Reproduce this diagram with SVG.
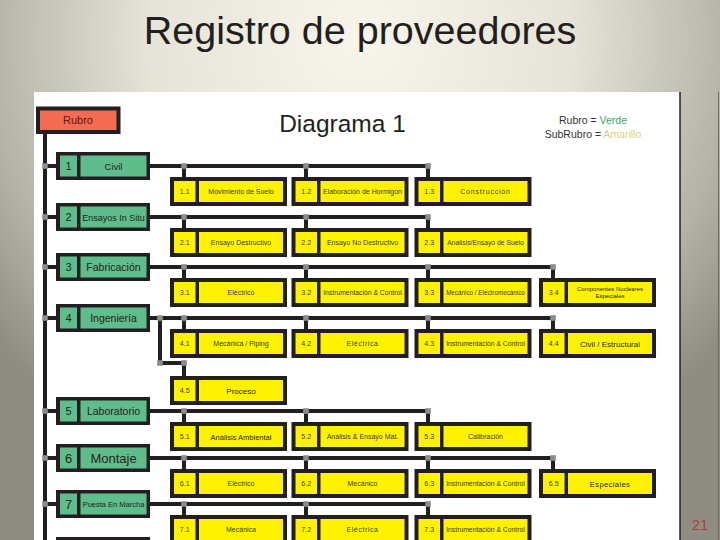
<svg xmlns="http://www.w3.org/2000/svg" width="720" height="540" viewBox="0 0 720 540">
<defs>
<radialGradient id="bg" cx="360" cy="40" r="470" gradientUnits="userSpaceOnUse">
<stop offset="0" stop-color="#f8f5ea"/>
<stop offset="0.45" stop-color="#e6e3d7"/>
<stop offset="0.8" stop-color="#b4b2a6"/>
<stop offset="1" stop-color="#8f8d82"/>
</radialGradient>
<style>
.ln{stroke:#231f20;stroke-width:4;fill:none}
.jn{fill:#8c8c8c}
.bk{fill:#231f20}
.gc{fill:#5fbd8b}
.yc{fill:#fff200}
.rc{fill:#f26b52}
.t{font-family:"Liberation Sans",Arial,sans-serif;text-anchor:middle;fill:#231f20}
.yn{font-size:7px;fill:#3a3a3a}
.yl{font-size:7px;fill:#3a3a3a}
.ic{font-size:6.8px;fill:#3a3a3a}
.gn{font-size:11px}
</style>
</defs>
<rect width="720" height="540" fill="url(#bg)"/>
<text class="t" x="360" y="44" font-size="39.5" fill="#000">Registro de proveedores</text>
<rect x="34" y="92" width="646" height="448" fill="#ffffff"/>
<line x1="680" y1="92" x2="680" y2="540" stroke="#231f20" stroke-width="1.5"/>
<line x1="718.5" y1="92" x2="718.5" y2="540" stroke="#6e6c64" stroke-width="1"/>
<text class="t" x="700" y="530" font-size="15" style="fill:#a8433c">21</text>

<g id="header">
<text class="t" x="342.5" y="132" font-size="24.5">Diagrama 1</text>
<text class="t" x="593" y="124" font-size="10.5"><tspan fill="#333">Rubro = </tspan><tspan fill="#3aa56b">Verde</tspan></text>
<text class="t" x="593" y="137.5" font-size="10.5"><tspan fill="#333">SubRubro = </tspan><tspan fill="#d6d27c">Amarillo</tspan></text>
</g>

<g id="connectors">
<line class="ln" x1="45" y1="134" x2="45" y2="540"/>
<path class="ln" d="M45 166H56M150 166H430M184 166V177M306 166V177M428 166V177"/>
<path class="ln" d="M45 217H56M150 217H430M184 217V228M306 217V228M428 217V228"/>
<path class="ln" d="M45 267H56M150 267H555M184 267V278M306 267V278M428 267V278M553 267V278"/>
<path class="ln" d="M45 318H56M150 318H555M184 318V329M306 318V329M428 318V329M553 318V329"/>
<path class="ln" d="M160 318V363H184V376"/>
<path class="ln" d="M45 411H56M150 411H430M184 411V422M306 411V422M428 411V422"/>
<path class="ln" d="M45 458H56M150 458H555M184 458V469M306 458V469M428 458V469M553 458V469"/>
<path class="ln" d="M45 504H56M150 504H430M184 504V515M306 504V515M428 504V515"/>
<g class="jn">
<rect x="42.2" y="163.2" width="5.6" height="5.6"/><rect x="181.2" y="163.2" width="5.6" height="5.6"/><rect x="303.2" y="163.2" width="5.6" height="5.6"/><rect x="425.2" y="163.2" width="5.6" height="5.6"/>
<rect x="42.2" y="214.2" width="5.6" height="5.6"/><rect x="181.2" y="214.2" width="5.6" height="5.6"/><rect x="303.2" y="214.2" width="5.6" height="5.6"/><rect x="425.2" y="214.2" width="5.6" height="5.6"/>
<rect x="42.2" y="264.2" width="5.6" height="5.6"/><rect x="181.2" y="264.2" width="5.6" height="5.6"/><rect x="303.2" y="264.2" width="5.6" height="5.6"/><rect x="425.2" y="264.2" width="5.6" height="5.6"/><rect x="550.2" y="264.2" width="5.6" height="5.6"/>
<rect x="42.2" y="315.2" width="5.6" height="5.6"/><rect x="157.2" y="315.2" width="5.6" height="5.6"/><rect x="181.2" y="315.2" width="5.6" height="5.6"/><rect x="303.2" y="315.2" width="5.6" height="5.6"/><rect x="425.2" y="315.2" width="5.6" height="5.6"/><rect x="550.2" y="315.2" width="5.6" height="5.6"/>
<rect x="157.2" y="360.2" width="5.6" height="5.6"/><rect x="181.2" y="360.2" width="5.6" height="5.6"/>
<rect x="42.2" y="408.2" width="5.6" height="5.6"/><rect x="181.2" y="408.2" width="5.6" height="5.6"/><rect x="303.2" y="408.2" width="5.6" height="5.6"/><rect x="425.2" y="408.2" width="5.6" height="5.6"/>
<rect x="42.2" y="455.2" width="5.6" height="5.6"/><rect x="181.2" y="455.2" width="5.6" height="5.6"/><rect x="303.2" y="455.2" width="5.6" height="5.6"/><rect x="425.2" y="455.2" width="5.6" height="5.6"/><rect x="550.2" y="455.2" width="5.6" height="5.6"/>
<rect x="42.2" y="501.2" width="5.6" height="5.6"/><rect x="181.2" y="501.2" width="5.6" height="5.6"/><rect x="303.2" y="501.2" width="5.6" height="5.6"/><rect x="425.2" y="501.2" width="5.6" height="5.6"/>
</g>
</g>

<g id="rubro" transform="translate(36,106.5)">
<rect class="bk" width="84.5" height="27.5"/><rect class="rc" x="4" y="4" width="76.5" height="19.5"/>
<text class="t" x="42" y="17.5" font-size="11" style="fill:#5c1a10">Rubro</text>
</g>

<g id="r1" transform="translate(56,152)"><rect class="bk" width="94" height="28"/><rect class="gc" x="4" y="3.5" width="17" height="21"/><rect class="gc" x="24.5" y="3.5" width="66" height="21"/><text class="t gn" x="12.5" y="18">1</text><text class="t" x="57.5" y="17.5" font-size="9.5">Civil</text></g>
<g id="r2" transform="translate(56,203)"><rect class="bk" width="94" height="28"/><rect class="gc" x="4" y="3.5" width="17" height="21"/><rect class="gc" x="24.5" y="3.5" width="66" height="21"/><text class="t gn" x="12.5" y="18">2</text><text class="t" x="57.5" y="17.5" font-size="9">Ensayos In Situ</text></g>
<g id="r3" transform="translate(56,253)"><rect class="bk" width="94" height="28"/><rect class="gc" x="4" y="3.5" width="17" height="21"/><rect class="gc" x="24.5" y="3.5" width="66" height="21"/><text class="t gn" x="12.5" y="18">3</text><text class="t" x="57.5" y="18" font-size="10.5">Fabricación</text></g>
<g id="r4" transform="translate(56,304)"><rect class="bk" width="94" height="28"/><rect class="gc" x="4" y="3.5" width="17" height="21"/><rect class="gc" x="24.5" y="3.5" width="66" height="21"/><text class="t gn" x="12.5" y="18">4</text><text class="t" x="57.5" y="18" font-size="10.5">Ingeniería</text></g>
<g id="r5" transform="translate(56,397)"><rect class="bk" width="94" height="28"/><rect class="gc" x="4" y="3.5" width="17" height="21"/><rect class="gc" x="24.5" y="3.5" width="66" height="21"/><text class="t gn" x="12.5" y="18">5</text><text class="t" x="57.5" y="18" font-size="10.5">Laboratorio</text></g>
<g id="r6" transform="translate(56,444)"><rect class="bk" width="94" height="28"/><rect class="gc" x="4" y="3.5" width="17" height="21"/><rect class="gc" x="24.5" y="3.5" width="66" height="21"/><text class="t" x="12.5" y="18.5" font-size="13">6</text><text class="t" x="57.5" y="18.5" font-size="13">Montaje</text></g>
<g id="r7" transform="translate(56,490)"><rect class="bk" width="94" height="28"/><rect class="gc" x="4" y="3.5" width="17" height="21"/><rect class="gc" x="24.5" y="3.5" width="66" height="21"/><text class="t" x="12.5" y="18.5" font-size="12">7</text><text class="t" x="57.5" y="17" font-size="7.5">Puesta En Marcha</text></g>
<g id="r8" transform="translate(56,537)"><rect class="bk" width="94" height="28"/></g>

<g id="s1-1" transform="translate(170,177)"><rect class="bk" width="117" height="29"/><rect class="yc" x="4" y="4" width="21.5" height="21"/><rect class="yc" x="29" y="4" width="84" height="21"/><text class="t yn" x="14.7" y="17">1.1</text><text class="t yl" x="71" y="17">Movimiento de Suelo</text></g>
<g id="s1-2" transform="translate(291.5,177)"><rect class="bk" width="117" height="29"/><rect class="yc" x="4" y="4" width="21.5" height="21"/><rect class="yc" x="29" y="4" width="84" height="21"/><text class="t yn" x="14.7" y="17">1.2</text><text class="t yl" x="71" y="17">Elaboración de Hormigon</text></g>
<g id="s1-3" transform="translate(414.5,177)"><rect class="bk" width="117" height="29"/><rect class="yc" x="4" y="4" width="21.5" height="21"/><rect class="yc" x="29" y="4" width="84" height="21"/><text class="t yn" x="14.7" y="17">1.3</text><text class="t yl" x="71" y="17" letter-spacing="0.8">Construcción</text></g>

<g id="s2-1" transform="translate(170,228)"><rect class="bk" width="117" height="29"/><rect class="yc" x="4" y="4" width="21.5" height="21"/><rect class="yc" x="29" y="4" width="84" height="21"/><text class="t yn" x="14.7" y="17">2.1</text><text class="t yl" x="71" y="17">Ensayo Destructivo</text></g>
<g id="s2-2" transform="translate(291.5,228)"><rect class="bk" width="117" height="29"/><rect class="yc" x="4" y="4" width="21.5" height="21"/><rect class="yc" x="29" y="4" width="84" height="21"/><text class="t yn" x="14.7" y="17">2.2</text><text class="t yl" x="71" y="17">Ensayo No Destructivo</text></g>
<g id="s2-3" transform="translate(414.5,228)"><rect class="bk" width="117" height="29"/><rect class="yc" x="4" y="4" width="21.5" height="21"/><rect class="yc" x="29" y="4" width="84" height="21"/><text class="t yn" x="14.7" y="17">2.3</text><text class="t ic" x="71" y="17">Analisis/Ensayo de Suelo</text></g>

<g id="s3-1" transform="translate(170,278)"><rect class="bk" width="117" height="29"/><rect class="yc" x="4" y="4" width="21.5" height="21"/><rect class="yc" x="29" y="4" width="84" height="21"/><text class="t yn" x="14.7" y="17">3.1</text><text class="t yl" x="71" y="17">Eléctrico</text></g>
<g id="s3-2" transform="translate(291.5,278)"><rect class="bk" width="117" height="29"/><rect class="yc" x="4" y="4" width="21.5" height="21"/><rect class="yc" x="29" y="4" width="84" height="21"/><text class="t yn" x="14.7" y="17">3.2</text><text class="t ic" x="71" y="17">Instrumentación &amp; Control</text></g>
<g id="s3-3" transform="translate(414.5,278)"><rect class="bk" width="117" height="29"/><rect class="yc" x="4" y="4" width="21.5" height="21"/><rect class="yc" x="29" y="4" width="84" height="21"/><text class="t yn" x="14.7" y="17">3.3</text><text class="t" x="71" y="17" style="font-size:6.3px;fill:#3a3a3a">Mecánico / Electromecánico</text></g>
<g id="s3-4" transform="translate(539,278)"><rect class="bk" width="117" height="29"/><rect class="yc" x="4" y="4" width="21.5" height="21"/><rect class="yc" x="29" y="4" width="84" height="21"/><text class="t yn" x="14.7" y="17">3.4</text><text class="t" x="71" y="13" font-size="6" fill="#3a3a3a">Componentes Nucleares</text><text class="t" x="71" y="20" font-size="6" fill="#3a3a3a">Especiales</text></g>

<g id="s4-1" transform="translate(170,329)"><rect class="bk" width="117" height="29"/><rect class="yc" x="4" y="4" width="21.5" height="21"/><rect class="yc" x="29" y="4" width="84" height="21"/><text class="t yn" x="14.7" y="17">4.1</text><text class="t yl" x="71" y="17">Mecánica / Piping</text></g>
<g id="s4-2" transform="translate(291.5,329)"><rect class="bk" width="117" height="29"/><rect class="yc" x="4" y="4" width="21.5" height="21"/><rect class="yc" x="29" y="4" width="84" height="21"/><text class="t yn" x="14.7" y="17">4.2</text><text class="t yl" x="71" y="17" letter-spacing="0.6">Eléctrica</text></g>
<g id="s4-3" transform="translate(414.5,329)"><rect class="bk" width="117" height="29"/><rect class="yc" x="4" y="4" width="21.5" height="21"/><rect class="yc" x="29" y="4" width="84" height="21"/><text class="t yn" x="14.7" y="17">4.3</text><text class="t ic" x="71" y="17">Instrumentación &amp; Control</text></g>
<g id="s4-4" transform="translate(539,329)"><rect class="bk" width="117" height="29"/><rect class="yc" x="4" y="4" width="21.5" height="21"/><rect class="yc" x="29" y="4" width="84" height="21"/><text class="t yn" x="14.7" y="17">4.4</text><text class="t" x="71" y="17.5" font-size="8" fill="#3a3a3a">Civil / Estructural</text></g>
<g id="s4-5" transform="translate(170,376)"><rect class="bk" width="117" height="29"/><rect class="yc" x="4" y="4" width="21.5" height="21"/><rect class="yc" x="29" y="4" width="84" height="21"/><text class="t yn" x="14.7" y="17">4.5</text><text class="t" x="71" y="17.5" font-size="8" fill="#3a3a3a">Proceso</text></g>

<g id="s5-1" transform="translate(170,422)"><rect class="bk" width="117" height="29"/><rect class="yc" x="4" y="4" width="21.5" height="21"/><rect class="yc" x="29" y="4" width="84" height="21"/><text class="t yn" x="14.7" y="17">5.1</text><text class="t" x="71" y="17.5" font-size="7.5" fill="#3a3a3a">Análisis Ambiental</text></g>
<g id="s5-2" transform="translate(291.5,422)"><rect class="bk" width="117" height="29"/><rect class="yc" x="4" y="4" width="21.5" height="21"/><rect class="yc" x="29" y="4" width="84" height="21"/><text class="t yn" x="14.7" y="17">5.2</text><text class="t yl" x="71" y="17">Análisis &amp; Ensayo Mat.</text></g>
<g id="s5-3" transform="translate(414.5,422)"><rect class="bk" width="117" height="29"/><rect class="yc" x="4" y="4" width="21.5" height="21"/><rect class="yc" x="29" y="4" width="84" height="21"/><text class="t yn" x="14.7" y="17">5.3</text><text class="t yl" x="71" y="17">Calibración</text></g>

<g id="s6-1" transform="translate(170,469)"><rect class="bk" width="117" height="29"/><rect class="yc" x="4" y="4" width="21.5" height="21"/><rect class="yc" x="29" y="4" width="84" height="21"/><text class="t yn" x="14.7" y="17">6.1</text><text class="t yl" x="71" y="17">Eléctrico</text></g>
<g id="s6-2" transform="translate(291.5,469)"><rect class="bk" width="117" height="29"/><rect class="yc" x="4" y="4" width="21.5" height="21"/><rect class="yc" x="29" y="4" width="84" height="21"/><text class="t yn" x="14.7" y="17">6.2</text><text class="t yl" x="71" y="17">Mecánico</text></g>
<g id="s6-3" transform="translate(414.5,469)"><rect class="bk" width="117" height="29"/><rect class="yc" x="4" y="4" width="21.5" height="21"/><rect class="yc" x="29" y="4" width="84" height="21"/><text class="t yn" x="14.7" y="17">6.3</text><text class="t ic" x="71" y="17">Instrumentación &amp; Control</text></g>
<g id="s6-5" transform="translate(539,469)"><rect class="bk" width="117" height="29"/><rect class="yc" x="4" y="4" width="21.5" height="21"/><rect class="yc" x="29" y="4" width="84" height="21"/><text class="t yn" x="14.7" y="17">6.5</text><text class="t" x="71" y="17.5" font-size="7.5" fill="#3a3a3a" letter-spacing="0.4">Especiales</text></g>

<g id="s7-1" transform="translate(170,515)"><rect class="bk" width="117" height="29"/><rect class="yc" x="4" y="4" width="21.5" height="21"/><rect class="yc" x="29" y="4" width="84" height="21"/><text class="t yn" x="14.7" y="17">7.1</text><text class="t yl" x="71" y="17">Mecánica</text></g>
<g id="s7-2" transform="translate(291.5,515)"><rect class="bk" width="117" height="29"/><rect class="yc" x="4" y="4" width="21.5" height="21"/><rect class="yc" x="29" y="4" width="84" height="21"/><text class="t yn" x="14.7" y="17">7.2</text><text class="t yl" x="71" y="17" letter-spacing="0.6">Eléctrica</text></g>
<g id="s7-3" transform="translate(414.5,515)"><rect class="bk" width="117" height="29"/><rect class="yc" x="4" y="4" width="21.5" height="21"/><rect class="yc" x="29" y="4" width="84" height="21"/><text class="t yn" x="14.7" y="17">7.3</text><text class="t ic" x="71" y="17">Instrumentación &amp; Control</text></g>
</svg>
